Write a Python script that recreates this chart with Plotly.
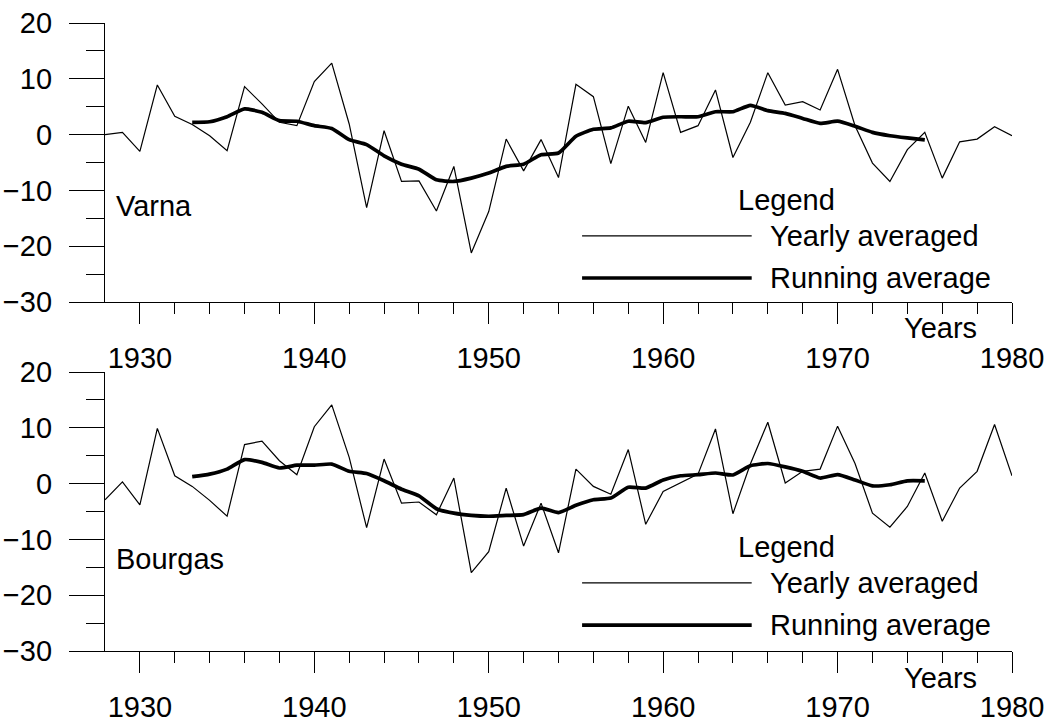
import plotly.graph_objects as go
from plotly.subplots import make_subplots

years = list(range(1928, 1981))
running_years = list(range(1933, 1976))

varna_yearly = [0.0, 0.4, -3.0, 8.9, 3.3, 1.8, -0.2, -2.9, 8.6, 5.5,
                2.2, 1.6, 9.5, 12.8, 1.9, -13.1, 0.7, -8.4, -8.3, -13.7,
                -5.7, -21.2, -13.8, -0.8, -6.5, -0.9, -7.7, 9.0, 6.8, -5.2,
                5.1, -1.4, 11.1, 0.4, 1.6, 8.0, -4.1, 2.2, 11.1, 5.3,
                5.9, 4.4, 11.7, 1.6, -5.1, -8.4, -2.7, 0.4, -7.8, -1.3,
                -0.8, 1.4, -0.2]
varna_running = [2.2, 2.3, 3.2, 4.6, 4.0, 2.5, 2.4, 1.6, 1.1, -0.9,
                 -1.8, -3.8, -5.3, -6.2, -8.1, -8.4, -7.8, -6.9, -5.7, -5.3,
                 -3.6, -3.3, -0.3, 0.95, 1.2, 2.4, 2.15, 3.1, 3.2, 3.2,
                 4.1, 4.1, 5.25, 4.3, 3.8, 2.9, 2.0, 2.4, 1.5, 0.4,
                 -0.2, -0.6, -0.96]

bourgas_yearly = [-2.9, 0.3, -3.8, 9.9, 1.4, -0.5, -3.0, -5.85, 7.0, 7.6,
                  4.1, 1.6, 10.2, 14.1, 4.7, -7.9, 4.4, -3.5, -3.3, -5.6,
                  1.0, -15.95, -12.2, -0.8, -11.2, -3.5, -12.4, 2.6, -0.5, -1.9,
                  6.1, -7.3, -1.4, 0.2, 1.7, 9.8, -5.4, 3.5, 11.0, 0.1,
                  2.2, 2.6, 10.3, 3.6, -5.3, -7.8, -4.1, 1.9, -6.75, -0.8,
                  2.2, 10.6, 1.4]
bourgas_running = [1.25, 1.7, 2.6, 4.3, 3.8, 2.8, 3.3, 3.3, 3.5, 2.2,
                   1.8, 0.5, -1.0, -2.2, -4.5, -5.3, -5.7, -5.85, -5.7, -5.55,
                   -4.4, -5.2, -3.9, -2.9, -2.6, -0.65, -0.8, 0.65, 1.4, 1.6,
                   1.9, 1.55, 3.2, 3.6, 3.0, 2.2, 1.0, 1.6, 0.65, -0.4,
                   -0.2, 0.5, 0.5]

stations = ["Varna", "Bourgas"]
legend_title = "Legend"
label_yearly = "Yearly averaged"
label_running = "Running average"
x_title = "Years"

FONT = "Liberation Sans, Arial, sans-serif"
FS = 29

fig = make_subplots(rows=2, cols=1, vertical_spacing=70 / 628)

for row, (yy, rr) in enumerate([(varna_yearly, varna_running),
                                  (bourgas_yearly, bourgas_running)], start=1):
    fig.add_trace(go.Scatter(x=years, y=yy, mode="lines",
                             line=dict(color="black", width=1.2),
                             showlegend=False), row=row, col=1)
    fig.add_trace(go.Scatter(x=running_years, y=rr, mode="lines",
                             line=dict(color="black", width=3.7, shape="spline", smoothing=0.5),
                             showlegend=False), row=row, col=1)

axis_common = dict(showgrid=False, zeroline=False, showline=True,
                   linecolor="black", linewidth=1.3, ticks="outside",
                   tickcolor="black", tickwidth=1.3, automargin=False,
                   tickfont=dict(family=FONT, size=FS, color="black"))

x_minor_ticks = list(range(1930, 1981, 2))
y_minor_ticks = list(range(-30, 21, 5))

for row in (1, 2):
    fig.update_xaxes(range=[1928, 1980], tick0=1930, dtick=10, ticklen=21,
                     ticklabelstandoff=9,
                     minor=dict(tickmode="array", tickvals=x_minor_ticks, ticklen=11,
                                ticks="outside", tickcolor="black", tickwidth=1.3,
                                showgrid=False),
                     showticklabels=True, **axis_common, row=row, col=1)
    fig.update_yaxes(range=[-30, 20], tick0=-30, dtick=10, ticklen=35,
                     ticklabelstandoff=11,
                     minor=dict(tickmode="array", tickvals=y_minor_ticks, ticklen=18,
                                ticks="outside", tickcolor="black", tickwidth=1.3,
                                showgrid=False),
                     **axis_common, row=row, col=1)

annotations = []
shapes = []
ann_font = dict(family=FONT, size=FS, color="black")
layout_pos = [
    dict(xr="x domain", yr="y domain", st=0.343, lg=0.366, thin=0.237, thick=0.086, yrs=-0.093),
    dict(xr="x2 domain", yr="y2 domain", st=0.329, lg=0.373, thin=0.244, thick=0.093, yrs=-0.095),
]
for name, p in zip(stations, layout_pos):
    annotations.append(dict(text=name, x=0.010, y=p["st"], xref=p["xr"], yref=p["yr"],
                            xanchor="left", yanchor="middle", showarrow=False, font=ann_font))
    annotations.append(dict(text=legend_title, x=0.696, y=p["lg"], xref=p["xr"], yref=p["yr"],
                            xanchor="left", yanchor="middle", showarrow=False, font=ann_font))
    annotations.append(dict(text=label_yearly, x=0.731, y=p["thin"], xref=p["xr"], yref=p["yr"],
                            xanchor="left", yanchor="middle", showarrow=False, font=ann_font))
    annotations.append(dict(text=label_running, x=0.731, y=p["thick"], xref=p["xr"], yref=p["yr"],
                            xanchor="left", yanchor="middle", showarrow=False, font=ann_font))
    annotations.append(dict(text=x_title, x=0.921, y=p["yrs"], xref=p["xr"], yref=p["yr"],
                            xanchor="center", yanchor="middle", showarrow=False, font=ann_font))
    shapes.append(dict(type="line", x0=0.526, x1=0.713, y0=p["thin"], y1=p["thin"],
                       xref=p["xr"], yref=p["yr"], line=dict(color="black", width=1.2)))
    shapes.append(dict(type="line", x0=0.526, x1=0.713, y0=p["thick"], y1=p["thick"],
                       xref=p["xr"], yref=p["yr"], line=dict(color="black", width=3.7)))

fig.update_layout(width=1048, height=724,
                  margin=dict(l=105, r=36, t=23, b=73, autoexpand=False),
                  plot_bgcolor="white", paper_bgcolor="white",
                  annotations=annotations, shapes=shapes, showlegend=False,
                  font=dict(family=FONT, color="black"))

fig.write_html("out.html")
